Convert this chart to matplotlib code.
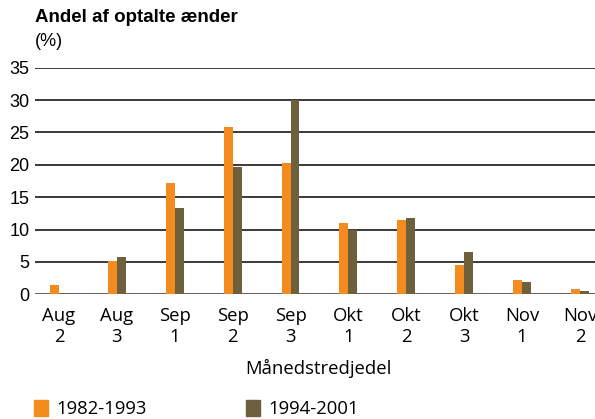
import numpy as np
import matplotlib.pyplot as plt
from matplotlib.patches import Patch

# andel af optalte ænder per månedstredjedel (%)
periods = ["Aug\n2", "Aug\n3", "Sep\n1", "Sep\n2", "Sep\n3",
           "Okt\n1", "Okt\n2", "Okt\n3", "Nov\n1", "Nov\n2"]
share_1982_1993 = [1.5, 5.1, 17.2, 25.9, 20.3, 11.0, 11.5, 4.5, 2.2, 0.8]
share_1994_2001 = [0.2, 5.8, 13.3, 19.7, 30.0, 10.0, 11.8, 6.5, 1.9, 0.5]
series_labels = ["1982-1993", "1994-2001"]

orange = "#F48B1E"
brown = "#6E5F3D"

fig = plt.figure(figsize=(5.95, 4.19), dpi=100)
ax = fig.add_axes([0.0588, 0.2976, 0.9412, 0.5408])

x = np.arange(len(periods))
w = 0.155
ax.bar(x - w / 2, share_1982_1993, width=w, color=orange, zorder=3)
ax.bar(x + w / 2, share_1994_2001, width=w, color=brown, zorder=3)

ax.set_ylim(0, 35)
ax.set_xlim(-0.414, 9.26)
ax.set_yticks(range(0, 36, 5))
for y in range(0, 36, 5):
    ax.axhline(y, color="#2a2a2a" if y else "#555555", lw=1.3, zorder=2)

for s in ax.spines.values():
    s.set_visible(False)

ax.tick_params(axis="y", length=0, pad=4, labelsize=13)
for t in ax.get_yticklabels():
    t.set_fontfamily("Liberation Sans")

ax.set_xticks(x)
ax.set_xticklabels(periods, fontfamily="Open Sans", fontsize=13.3, linespacing=1.2)
ax.tick_params(axis="x", length=0, pad=9)

fig.text(0.0588, 0.958, "Andel af optalte ænder", fontfamily="Liberation Sans",
         fontweight="bold", fontsize=13.5, va="center", ha="left")
fig.text(0.0588, 0.9, "(%)", fontfamily="Liberation Sans", fontsize=13,
         va="center", ha="left")
fig.text(318 / 595, 1 - 368 / 419, "Månedstredjedel", fontfamily="Open Sans",
         fontsize=13.3, ha="center", va="center")

handles = [Patch(color=orange), Patch(color=brown)]
fig.legend(handles, series_labels, loc="center left", ncol=2, frameon=False,
           bbox_to_anchor=(0.045, 1 - 409 / 419), prop={"family": "Open Sans", "size": 13.3},
           handlelength=0.75, handleheight=1.0, handletextpad=0.45, columnspacing=5.4,
           borderaxespad=0)

fig.savefig("out.png", dpi=100)
